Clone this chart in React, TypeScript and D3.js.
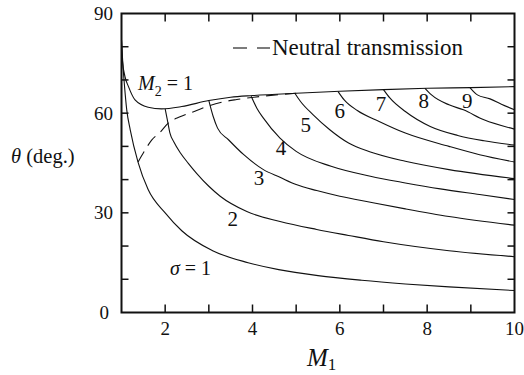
import React from "react";
import * as d3 from "d3";

// Wave angle θ (deg.) against upstream Mach number M1
type Pt = [number, number];

const sonicLine: Pt[] = [
  [1.0, 82], [1.02, 76], [1.08, 71], [1.16, 68], [1.31, 64], [1.61, 61.8],
  [1.92, 61.3], [2.38, 62], [3.0, 63.8], [3.5, 64.8], [4.0, 65.3], [5.0, 66.0],
  [6.0, 66.6], [7.0, 67.1], [8.0, 67.5], [9.0, 67.7], [10.0, 68.0],
];

const neutralLine: Pt[] = [
  [1.38, 45.3], [1.54, 48.9], [1.69, 51.9], [1.88, 54.2], [2.07, 57], [2.34, 58.9],
  [2.68, 60.6], [2.95, 62], [3.33, 63.4], [3.64, 64.1], [4.17, 65.0], [5.0, 66.0],
];

const sigmaLabels = ["σ = 1", "2", "3", "4", "5", "6", "7", "8", "9"];

const sigma1: Pt[] = [
  [1.0, 82], [1.03, 75], [1.07, 68], [1.12, 61], [1.2, 55], [1.38, 45.2], [1.61, 37],
  [2.0, 30], [2.38, 24.6], [3.1, 18.5], [3.9, 15], [4.6, 12.9], [5.5, 11.1], [6.5, 9.7],
  [7.5, 8.6], [8.5, 7.7], [10, 6.6],
];
const sigma2: Pt[] = [
  [2.0, 61.3], [2.05, 58], [2.11, 54], [2.2, 51.3], [2.35, 48], [2.53, 44.9], [2.72, 41.9],
  [3.0, 38], [3.26, 35], [3.87, 30.4], [4.63, 27.4], [5.47, 25.0], [6.2, 23.2], [7.0, 21.3],
  [8.5, 18.6], [10, 16.8],
];
const sigma3: Pt[] = [
  [3.0, 63.8], [3.1, 59], [3.2, 55.5], [3.45, 52], [3.8, 47.5], [4.25, 43], [4.63, 40.7],
  [5.0, 38.5], [5.47, 36.7], [6.0, 35], [6.7, 33.2], [7.5, 31.2], [8.5, 28.9], [10, 26.3],
];
const sigma4: Pt[] = [
  [3.97, 65.1], [4.1, 61.5], [4.25, 58.5], [4.63, 52.5], [5.0, 48.5], [5.8, 44],
  [6.7, 41.0], [7.5, 39.0], [8.3, 37.2], [9.2, 35.5], [10, 34],
];
const sigma5: Pt[] = [
  [4.97, 66], [5.1, 63.5], [5.39, 59.5], [5.77, 55], [6.2, 51], [6.7, 48.3],
  [7.5, 45.5], [8.5, 43], [10, 40.3],
];
const sigma6: Pt[] = [
  [5.96, 66.5], [6.1, 64], [6.4, 60.8], [6.9, 57.5], [7.5, 54], [8.5, 50], [9.2, 47.5],
  [10, 45.3],
];
const sigma7: Pt[] = [
  [7.0, 67.1], [7.15, 64.5], [7.5, 60.5], [8.07, 56], [8.7, 53.3], [9.3, 51.7], [10, 50.4],
];
const sigma8: Pt[] = [
  [7.95, 67.5], [8.1, 65.5], [8.5, 62.5], [8.83, 61], [9.3, 58], [10, 55.2],
];
const sigma9: Pt[] = [
  [8.98, 67.7], [9.15, 65.5], [9.44, 64.3], [9.7, 62.7], [10, 61],
];

const sigmaCurves = [sigma1, sigma2, sigma3, sigma4, sigma5, sigma6, sigma7, sigma8, sigma9];

// where each σ label sits, in (M1, θ)
const sigmaLabelAt: Pt[] = [
  [2.11, 11.3], [3.55, 28.1], [4.15, 40.5], [4.65, 49.5], [5.22, 56.4],
  [6.0, 60.7], [6.94, 62.8], [7.92, 63.7], [8.92, 63.7],
];

const xTickLabels = [2, 4, 6, 8, 10];
const yTickLabels = [0, 30, 60, 90];
const xMinorTicks = [2, 3, 4, 5, 6, 7, 8, 9];
const yMinorTicks = [10, 20, 30, 40, 50, 60, 70, 80];

const W = 524;
const H = 375;
const left = 121.5, right = 514.5, top = 13.5, bottom = 312.5;

const FONT = '"Liberation Serif", "DejaVu Serif", "Times New Roman", serif';

export default function App() {
  const x = d3.scaleLinear().domain([1, 10]).range([left, right]);
  const y = d3.scaleLinear().domain([0, 90]).range([bottom, top]);
  const line = d3
    .line<Pt>()
    .x((d) => x(d[0]))
    .y((d) => y(d[1]))
    .curve(d3.curveMonotoneX);

  const ink = "#111";

  return (
    <svg
      width={W}
      height={H}
      viewBox={`0 0 ${W} ${H}`}
      style={{ position: "absolute", left: 0, top: 0, background: "#fff", fontFamily: FONT }}
    >
      <rect x={0} y={0} width={W} height={H} fill="#fff" />

      <g fill="none" stroke={ink} strokeWidth={1.1} strokeLinejoin="round">
        <path d={line(sonicLine) ?? ""} />
        {sigmaCurves.map((c, i) => (
          <path key={i} d={line(c) ?? ""} />
        ))}
        <path d={line(neutralLine) ?? ""} strokeDasharray="12 7" />
      </g>

      {/* frame and inward ticks */}
      <g stroke={ink} fill="none">
        <rect x={left} y={top} width={right - left} height={bottom - top} strokeWidth={2} />
        {xMinorTicks.map((t) => (
          <g key={"x" + t} strokeWidth={1.5}>
            <line x1={x(t)} x2={x(t)} y1={bottom} y2={bottom - 8} />
            <line x1={x(t)} x2={x(t)} y1={top} y2={top + 8} />
          </g>
        ))}
        {yMinorTicks.map((t) => (
          <g key={"y" + t} strokeWidth={1.5}>
            <line x1={left} x2={left + 7} y1={y(t)} y2={y(t)} />
            <line x1={right} x2={right - 7} y1={y(t)} y2={y(t)} />
          </g>
        ))}
      </g>

      <g fill={ink} style={{ fontSize: 19, fontFamily: FONT }}>
        {xTickLabels.map((t) => (
          <text key={"xl" + t} x={x(t)} y={335} textAnchor="middle">
            {t}
          </text>
        ))}
        {yTickLabels.map((t) => (
          <text key={"yl" + t} x={t === 0 ? 109 : 113} y={y(t)} dy="0.35em" textAnchor="end">
            {t}
          </text>
        ))}
      </g>

      {/* axis titles */}
      <text x={307} y={366} fill={ink} style={{ fontSize: 25, fontFamily: FONT }}>
        <tspan fontStyle="italic">M</tspan>
        <tspan style={{ fontSize: 17 }} dy={4}>1</tspan>
      </text>
      <text x={11} y={163} fill={ink} style={{ fontSize: 20.5, fontFamily: FONT }}>
        <tspan fontStyle="italic">θ</tspan>
        <tspan> (deg.)</tspan>
      </text>

      {/* curve labels */}
      <text x={x(1.38)} y={y(67)} fill={ink} style={{ fontSize: 20, fontFamily: FONT }}>
        <tspan fontStyle="italic">M</tspan>
        <tspan style={{ fontSize: 14 }} dy={6}>2</tspan>
        <tspan dy={-6}> = 1</tspan>
      </text>
      <text
        x={x(sigmaLabelAt[0][0])}
        y={y(sigmaLabelAt[0][1])}
        fill={ink}
        style={{ fontSize: 20, fontFamily: FONT }}
      >
        <tspan fontStyle="italic">σ</tspan>
        <tspan> = 1</tspan>
      </text>
      {sigmaLabels.slice(1).map((s, i) => (
        <text
          key={s}
          x={x(sigmaLabelAt[i + 1][0])}
          y={y(sigmaLabelAt[i + 1][1])}
          dy="0.35em"
          textAnchor="middle"
          fill={ink}
          style={{ fontSize: 21, fontFamily: FONT }}
        >
          {s}
        </text>
      ))}

      {/* legend */}
      <g stroke={ink} strokeWidth={1.1}>
        <line x1={233} x2={247} y1={48} y2={48} />
        <line x1={257} x2={270} y1={48} y2={48} />
      </g>
      <text x={272} y={55} fill={ink} style={{ fontSize: 23, fontFamily: FONT }}>
        Neutral transmission
      </text>
    </svg>
  );
}
